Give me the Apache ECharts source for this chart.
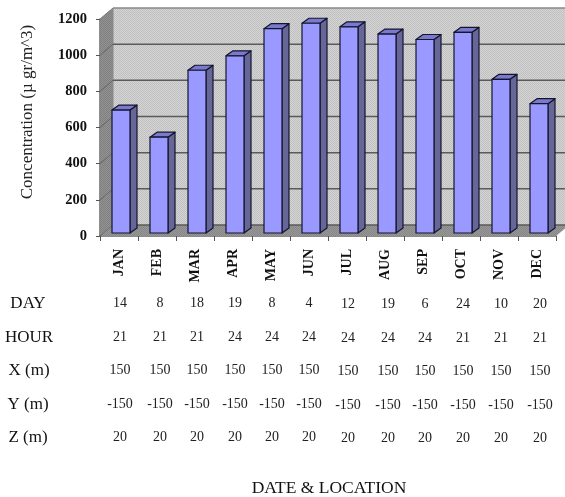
<!DOCTYPE html>
<html><head><meta charset="utf-8">
<style>html,body{margin:0;padding:0;background:#fff}#c{width:565px;height:497px}</style>
<script src="https://cdn.jsdelivr.net/npm/echarts@6/dist/echarts.min.js"></script>
</head><body><div id="c"></div>
<script>
const months = ['JAN','FEB','MAR','APR','MAY','JUN','JUL','AUG','SEP','OCT','NOV','DEC'];
const concentration = [680,530,900,980,1130,1160,1140,1100,1070,1110,850,715];
const yTicks = [0,200,400,600,800,1000,1200];
const dayRow = ['14','8','18','19','8','4','12','19','6','24','10','20'];
const hourRow = ['21','21','21','24','24','24','24','24','24','21','21','21'];
const xRow = ['150','150','150','150','150','150','150','150','150','150','150','150'];
const yRow = ['-150','-150','-150','-150','-150','-150','-150','-150','-150','-150','-150','-150'];
const zRow = ['20','20','20','20','20','20','20','20','20','20','20','20'];
const rowNames = ['DAY','HOUR','X (m)','Y (m)','Z (m)'];
const rows = [dayRow,hourRow,xRow,yRow,zRow];

const serif = '"Liberation Serif","Times New Roman",serif';
const DX = 13, DY = -11;
function pattern(a,b){const c=document.createElement('canvas');c.width=c.height=2;const g=c.getContext('2d');
  g.fillStyle=a;g.fillRect(0,0,2,2);g.fillStyle=b;g.fillRect(0,0,1,1);g.fillRect(1,1,1,1);return {image:c,repeat:'repeat'};}
const wallFill = pattern('#d4d4d4','#c0c0c0');
const sideFill = pattern('#929292','#808080');
const floorFill = pattern('#989898','#868686');

const colX = [120,160,197,235,272,309,348,388,425,463,501,540];
const rowY = [303,337,370,404,437];
const labelX = [28,29,29,28,28];
const graphics = [];
rows.forEach((r,ri)=>{
  graphics.push({type:'text',x:labelX[ri],y:rowY[ri]+1,z:10,style:{text:rowNames[ri],font:'17px '+serif,fill:'#111',align:'center',verticalAlign:'middle'}});
  r.forEach((t,i)=>graphics.push({type:'text',x:colX[i],y:rowY[ri]+(i>=6?1:0),z:10,style:{text:t,font:'14px '+serif,fill:'#222',align:'center',verticalAlign:'middle'}}));
});
graphics.push({type:'text',x:329,y:488,z:10,style:{text:'DATE & LOCATION',font:'17.5px '+serif,fill:'#111',align:'center',verticalAlign:'middle'}});
graphics.push({type:'text',x:28,y:112,rotation:Math.PI/2,z:10,style:{text:'Concentration (\u00b5 gr/m^3)',font:'17px '+serif,fill:'#222',align:'center',verticalAlign:'middle'}});

const option = {
  animation:false,
  backgroundColor:'#fff',
  grid:{left:100,right:9,top:19,bottom:261},
  xAxis:{type:'category',data:months,
    axisLine:{lineStyle:{color:'#666',width:1.5}},
    axisTick:{show:true,alignWithLabel:false,length:5,lineStyle:{color:'#555'}},
    axisLabel:{rotate:90,margin:13,fontFamily:serif,fontWeight:'bold',fontSize:14,color:'#111',interval:0}},
  yAxis:{type:'value',min:0,max:1200,interval:200,
    axisLine:{show:true,lineStyle:{color:'#666',width:1.5}},
    axisTick:{show:true,length:4,lineStyle:{color:'#555'}},
    splitLine:{show:false},
    axisLabel:{margin:13,fontFamily:serif,fontWeight:'bold',fontSize:14.5,color:'#111',formatter:v=>String(v)}},
  series:[
    {type:'custom',silent:true,z:1,data:[0],renderItem:(p,api)=>{
      const o=api.coord([0,0]),t=api.coord([0,1200]);
      const L=p.coordSys.x,R=L+p.coordSys.width;
      return {type:'group',children:[
        {type:'rect',shape:{x:L+DX,y:t[1]+DY,width:R-L,height:o[1]-t[1]},style:{fill:wallFill}},
        {type:'polygon',shape:{points:[[L,o[1]],[L+DX,o[1]+DY],[L+DX,t[1]+DY],[L,t[1]]]},style:{fill:sideFill}},
        {type:'polygon',shape:{points:[[L,o[1]],[L+DX,o[1]+DY],[R+DX,o[1]+DY],[R,o[1]]]},style:{fill:floorFill}},
        {type:'line',shape:{x1:L+DX,y1:t[1]+DY,x2:R+DX,y2:t[1]+DY},style:{stroke:'#888',lineWidth:1.5}},
        {type:'line',shape:{x1:L,y1:t[1],x2:L+DX,y2:t[1]+DY},style:{stroke:'#777',lineWidth:1}},
        {type:'line',shape:{x1:L+DX,y1:t[1]+DY,x2:L+DX,y2:o[1]+DY},style:{stroke:'#888',lineWidth:1}}
      ]};
    }},
    {type:'custom',silent:true,z:2,data:yTicks.slice(1,-1).concat([0]),encode:{y:0},renderItem:(p,api)=>{
      const y=api.coord([0,api.value(0)])[1];
      const L=p.coordSys.x,R=L+p.coordSys.width;
      return {type:'group',children:[
        {type:'line',shape:{x1:L+DX,y1:y+DY,x2:R+DX,y2:y+DY},style:{stroke:'#5a5a5a',lineWidth:1.5}},
        {type:'line',shape:{x1:L,y1:y,x2:L+DX,y2:y+DY},style:{stroke:'#666',lineWidth:1}}
      ]};
    }},
    {type:'custom',z:3,data:concentration.map((v,i)=>[i,v]),encode:{x:0,y:1},renderItem:(p,api)=>{
      const c=api.coord([api.value(0),api.value(1)]),b=api.coord([api.value(0),0]);
      const w=18,d=7,e=5,x0=c[0]-w/2+2,x1=x0+w,top=c[1]-3,bot=b[1]-3;
      const st=f=>({fill:f,stroke:'#14142e',lineWidth:1.2,lineJoin:'round'});
      return {type:'group',children:[
        {type:'polygon',shape:{points:[[x1,top],[x1+d,top-e],[x1+d,bot-e],[x1,bot]]},style:st('#666699')},
        {type:'polygon',shape:{points:[[x0,top],[x0+d,top-e],[x1+d,top-e],[x1,top]]},style:st('#7a7acc')},
        {type:'rect',shape:{x:x0,y:top,width:w,height:bot-top},style:st('#9999ff')}
      ]};
    }}
  ],
  graphic:graphics
};
echarts.init(document.getElementById('c'),null,{renderer:'canvas'}).setOption(option);
</script></body></html>
